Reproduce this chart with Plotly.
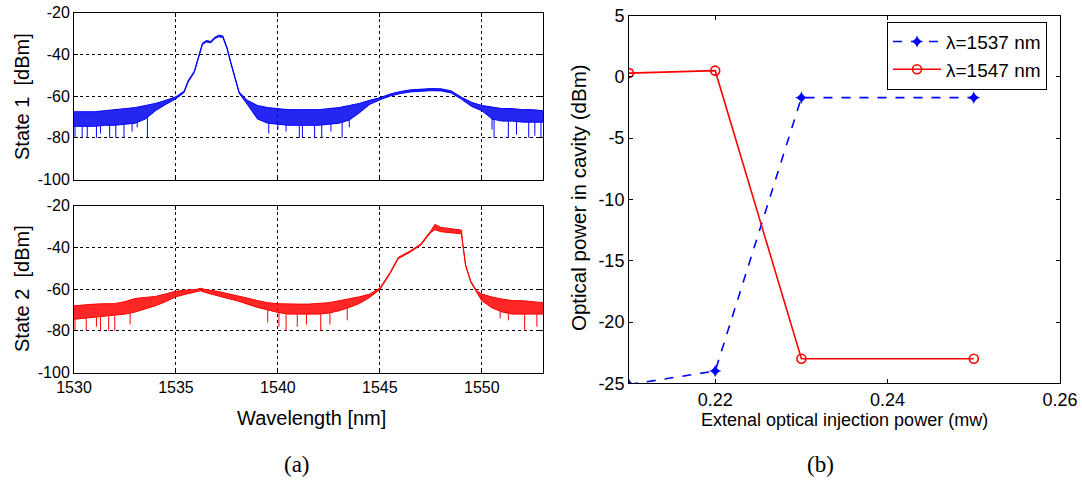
import numpy as np
import plotly.graph_objects as go

# ---------------- Data: (a) spectra ----------------
# State 1 (blue): wavelength, upper and lower envelope of the trace [dBm]
wl1 = [1530, 1530.5, 1531, 1531.5, 1532, 1532.5, 1533, 1533.5, 1534, 1534.5, 1535,
       1535.4, 1535.6, 1535.9, 1536.1, 1536.3, 1536.5, 1536.7, 1536.9, 1537.1, 1537.3,
       1537.5, 1537.7, 1537.9, 1538.1, 1538.5, 1539, 1539.5, 1540, 1540.5, 1541, 1541.5,
       1542, 1542.5, 1543, 1543.5, 1544, 1544.5, 1545, 1545.5, 1546, 1546.5, 1547,
       1547.5, 1548, 1548.5, 1549, 1549.5, 1550, 1550.5, 1551, 1551.5, 1552, 1552.5, 1553]
upper1 = [-67.5, -67.5, -67.5, -67, -66.5, -66, -65.5, -64.5, -63.5, -62, -60.3,
          -57.6, -52.5, -48, -41, -34.5, -33.3, -33.8, -31.8, -30.8, -31.2,
          -36.5, -44, -51, -58, -62, -64.5, -65.5, -66, -66.5, -66.5, -66.5,
          -66.5, -66, -65.5, -64.5, -63.5, -62, -60.8, -59, -57.8, -57, -56.7,
          -56.4, -56.5, -57.5, -60.5, -63, -64.5, -65.3, -66, -66, -66.5, -66.5, -67]
lower1 = [-74.5, -74.5, -74.5, -74, -74, -73.5, -73, -71, -67, -64, -61.3,
          -58.3, -53.2, -48.7, -41.7, -35.2, -34, -34.5, -32.5, -31.5, -31.9,
          -37.2, -44.7, -51.7, -58.7, -64, -71, -73, -73.5, -74, -74, -74,
          -74, -73.5, -73, -71.5, -68, -64, -61.8, -60, -58.8, -58, -57.7,
          -57.4, -57.5, -58.5, -61.5, -65, -67, -71, -72, -72, -72.5, -72.5, -72.5]
spike1_wl = [1530.05, 1530.4, 1530.65, 1531.1, 1531.3, 1531.75, 1532.05, 1532.45, 1532.85,
             1533.1, 1533.6, 1539.55, 1540.0, 1540.4, 1541.05, 1541.2, 1541.8, 1542.15,
             1542.6, 1543.15, 1543.5, 1550.5, 1550.6, 1551.3, 1551.7, 1552.3, 1552.6, 1552.9]
spike1_db = [-80, -80, -80, -80, -78, -80, -80, -80, -77,
             -75, -80, -78, -76, -77, -80, -80, -80, -80,
             -77, -80, -75, -76, -80, -80, -78.5, -80, -79, -80]

# State 2 (red)
wl2 = [1530, 1530.5, 1531, 1531.5, 1532, 1532.5, 1533, 1533.5, 1534, 1534.5, 1535,
       1535.5, 1536, 1536.2, 1536.5, 1537, 1537.5, 1538, 1538.5, 1539, 1539.5, 1540,
       1540.5, 1541, 1541.5, 1542, 1542.5, 1543, 1543.5, 1544, 1544.5, 1545, 1545.5,
       1545.9, 1546.5, 1547, 1547.5, 1547.7, 1548, 1548.5, 1549, 1549.05, 1549.2,
       1549.45, 1549.75, 1550, 1550.5, 1551, 1551.5, 1552, 1552.5, 1553]
upper2 = [-68, -67.5, -67.2, -67, -67, -66, -64.5, -64, -63.5, -62.3, -61,
          -60.5, -60.2, -59.6, -60.3, -61, -62, -63, -64.3, -65.5, -66.5, -67,
          -67.2, -67.2, -67.2, -67, -66.5, -65.6, -64.8, -63.7, -62.4, -59.5, -52,
          -44.8, -41.6, -38.4, -32, -29, -30.4, -31, -31.7, -36.8, -48,
          -56, -60.8, -62.4, -63.8, -64.8, -65.5, -65.6, -66, -66.5]
lower2 = [-74.5, -74, -73.6, -73.2, -72.8, -72, -71, -69.5, -68, -66, -63.7,
          -62.4, -61.5, -60.8, -61.8, -63.2, -64.4, -65.6, -67.2, -68.8, -70, -71.2,
          -72, -72, -72, -72, -71.5, -70.4, -68.8, -66.9, -64, -60.2, -52.6,
          -45.4, -42.2, -39, -32.8, -31.5, -32.5, -33, -33.5, -37.4, -48.6,
          -56.6, -61.5, -65.6, -69, -71, -72, -72, -72, -72]
spike2_wl = [1530.05, 1530.6, 1531.1, 1531.3, 1531.7, 1532.0, 1532.75, 1539.5, 1540.05,
             1540.4, 1540.95, 1541.4, 1542.1, 1542.55, 1543.4, 1550.9, 1551.3, 1552.1, 1552.7]
spike2_db = [-80, -80, -78, -80, -80, -80, -77, -76, -78,
             -80, -78, -77, -80, -77, -75, -74, -75, -80, -78]

wl_ticks = [1530, 1535, 1540, 1545, 1550]
db_ticks = [-100, -80, -60, -40, -20]

# ---------------- Data: (b) ----------------
inj_power = [0.21, 0.22, 0.23, 0.25]
p_1537 = [-25.1, -24.0, -1.7, -1.7]
p_1547 = [0.3, 0.5, -23.0, -23.0]
inj_ticks = [0.22, 0.24, 0.26]
pow_ticks = [-25, -20, -15, -10, -5, 0, 5]

W, H = 1082, 483
FONT = "Arial, Liberation Sans, sans-serif"


def px_x(p):
    return p / W


def px_y(p):
    return 1 - p / H


def lbl(vals):
    return [str(v) for v in vals]


fig = go.Figure()


def add_spectrum(wl, up, lo, swl, sdb, color, fill, xa, ya):
    fig.add_trace(go.Scatter(x=wl, y=lo, mode="lines", line=dict(color=color, width=1),
                             showlegend=False, xaxis=xa, yaxis=ya, hoverinfo="skip"))
    fig.add_trace(go.Scatter(x=wl, y=up, mode="lines", line=dict(color=color, width=1),
                             fill="tonexty", fillcolor=fill,
                             showlegend=False, xaxis=xa, yaxis=ya, hoverinfo="skip"))
    tops = np.interp(swl, wl, lo)
    sx, sy = [], []
    for w, t, d in zip(swl, tops, sdb):
        sx += [w, w, None]
        sy += [t, d, None]
    fig.add_trace(go.Scatter(x=sx, y=sy, mode="lines", line=dict(color=color, width=1),
                             showlegend=False, xaxis=xa, yaxis=ya, hoverinfo="skip"))


add_spectrum(wl1, upper1, lower1, spike1_wl, spike1_db, "#0000ff", "rgba(0,0,240,0.85)", "x", "y")
add_spectrum(wl2, upper2, lower2, spike2_wl, spike2_db, "#ff0000", "rgba(255,0,0,0.85)", "x2", "y2")

fig.add_trace(go.Scatter(x=inj_power, y=p_1537, mode="lines+markers", name="\u03bb=1537 nm",
                         line=dict(color="#0000ff", width=1.6, dash="dash"),
                         marker=dict(symbol="star-diamond", size=9, color="#0000ff"),
                         xaxis="x3", yaxis="y3"))
fig.add_trace(go.Scatter(x=inj_power, y=p_1547, mode="lines+markers", name="\u03bb=1547 nm",
                         line=dict(color="#ff0000", width=1.6),
                         marker=dict(symbol="circle-open", size=9, color="#ff0000",
                                     line=dict(width=1.6, color="#ff0000")),
                         xaxis="x3", yaxis="y3"))

ax_common = dict(showline=True, linecolor="black", linewidth=1, mirror="ticks",
                 ticks="inside", ticklen=4, tickcolor="black", zeroline=False,
                 automargin=False,
                 tickfont=dict(family=FONT, size=16, color="black"))
grid = dict(showgrid=True, gridcolor="black", gridwidth=1, griddash="dot")
big_tf = dict(family=FONT, size=18, color="black")

left_dom = [px_x(74), px_x(543)]
fig.update_layout(
    template="none",
    width=W, height=H, margin=dict(l=0, r=0, t=0, b=0, pad=0, autoexpand=False),
    paper_bgcolor="white", plot_bgcolor="white",
    font=dict(family=FONT, size=16, color="black"),
    xaxis=dict(domain=left_dom, anchor="y", range=[1530, 1553], tickvals=wl_ticks,
               showticklabels=False, **grid, **ax_common),
    yaxis=dict(domain=[px_y(179.5), px_y(12.7)], anchor="x", range=[-100, -20],
               tickvals=db_ticks, ticktext=lbl(db_ticks), **grid, **ax_common),
    xaxis2=dict(domain=left_dom, anchor="y2", range=[1530, 1553], tickvals=wl_ticks,
                ticktext=lbl(wl_ticks), **grid, **ax_common),
    yaxis2=dict(domain=[px_y(372.5), px_y(205.7)], anchor="x2", range=[-100, -20],
                tickvals=db_ticks, ticktext=lbl(db_ticks), **grid, **ax_common),
    xaxis3=dict(domain=[px_x(629), px_x(1060)], anchor="y3", range=[0.21, 0.26],
                tickvals=inj_ticks, ticktext=lbl(inj_ticks), showgrid=False,
                **{**ax_common, "tickfont": big_tf}),
    yaxis3=dict(domain=[px_y(383.3), px_y(15.5)], anchor="x3", range=[-25, 5],
                tickvals=pow_ticks, ticktext=lbl(pow_ticks), showgrid=False,
                **{**ax_common, "tickfont": big_tf}),
    legend=dict(x=px_x(887), y=px_y(21.7), xanchor="left", yanchor="top",
                bordercolor="black", borderwidth=1, bgcolor="white", traceorder="normal",
                font=dict(family=FONT, size=19, color="black"), tracegroupgap=0,
                itemwidth=48),
    showlegend=True,
)

ann = [
    dict(text="State 1  [dBm]", x=px_x(22), y=px_y(97), textangle=-90, font=dict(size=20)),
    dict(text="State 2  [dBm]", x=px_x(22), y=px_y(289), textangle=-90, font=dict(size=20)),
    dict(text="Wavelength [nm]", x=px_x(311), y=px_y(418), font=dict(size=20)),
    dict(text="Optical power in cavity (dBm)", x=px_x(578), y=px_y(198), textangle=-90,
         font=dict(size=20.5)),
    dict(text="Extenal optical injection power (mw)", x=px_x(844), y=px_y(420), font=dict(size=18)),
    dict(text="(a)", x=px_x(297), y=px_y(464),
         font=dict(size=23, family="Times New Roman, Liberation Serif, serif")),
    dict(text="(b)", x=px_x(821), y=px_y(464),
         font=dict(size=23, family="Times New Roman, Liberation Serif, serif")),
]
for a in ann:
    fig.add_annotation(xref="paper", yref="paper", showarrow=False, xanchor="center",
                       yanchor="middle", **a)

# remove the browser's default page margin so the figure sits at the window's origin
fig.write_html("out.html", config={"displayModeBar": False},
               post_script="document.body.style.margin='0';document.body.style.padding='0';"
                           "document.body.style.overflow='hidden';")
